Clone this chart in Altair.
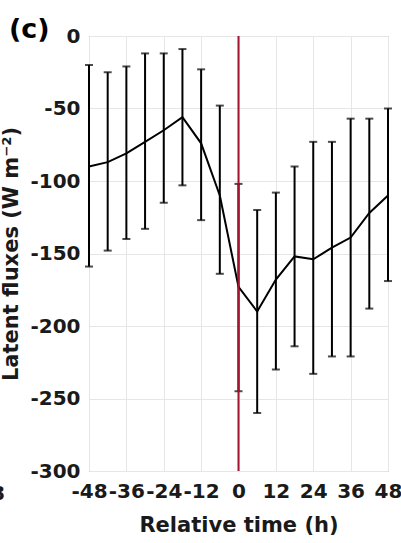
import altair as alt
import pandas as pd

hours = [-48, -42, -36, -30, -24, -18, -12, -6, 0, 6, 12, 18, 24, 30, 36, 42, 48]
mean_flux = [-90, -87, -81, -73, -65, -56, -74, -110, -173, -190, -168, -152, -154, -146, -139, -122, -110]
upper_flux = [-20, -25, -21, -12, -12, -9, -23, -48, -102, -120, -108, -90, -73, -73, -57, -57, -50]
lower_flux = [-159, -148, -140, -133, -115, -103, -127, -164, -245, -260, -230, -214, -233, -221, -221, -188, -169]
x_ticks = [-48, -36, -24, -12, 0, 12, 24, 36, 48]
y_ticks = [0, -50, -100, -150, -200, -250, -300]

df = pd.DataFrame({"t": hours, "m": mean_flux, "hi": upper_flux, "lo": lower_flux})
FONT = "DejaVu Sans"

xs = alt.Scale(domain=[-48, 48], nice=False, zero=False)
ys = alt.Scale(domain=[-300, 0], nice=False, zero=False)

xax = alt.Axis(values=x_ticks, title="Relative time (h)", labelPadding=10, titlePadding=13,
               labelOverlap=False, labelExpr="'' + datum.value")
yax = alt.Axis(values=y_ticks, title="Latent fluxes (W m⁻²)", labelPadding=9, titlePadding=8,
               labelOverlap=False, labelExpr="'' + datum.value")

base = alt.Chart(df)

bars = base.mark_rule(color="black", strokeWidth=2).encode(
    x=alt.X("t:Q", scale=xs, axis=xax),
    y=alt.Y("lo:Q", scale=ys, axis=yax),
    y2="hi:Q",
)
cap_hi = base.mark_tick(color="black", thickness=2, size=8, orient="horizontal").encode(
    x=alt.X("t:Q", scale=xs, axis=xax), y=alt.Y("hi:Q", scale=ys, axis=yax))
cap_lo = base.mark_tick(color="black", thickness=2, size=8, orient="horizontal").encode(
    x=alt.X("t:Q", scale=xs, axis=xax), y=alt.Y("lo:Q", scale=ys, axis=yax))
line = base.mark_line(color="black", strokeWidth=2).encode(
    x=alt.X("t:Q", scale=xs, axis=xax), y=alt.Y("m:Q", scale=ys, axis=yax))

red = alt.Chart(pd.DataFrame({"t": [0]})).mark_rule(color="#A2142F", strokeWidth=2).encode(
    x=alt.X("t:Q", scale=xs, axis=xax))

label_c = alt.Chart(pd.DataFrame({"s": ["(c)"]})).mark_text(
    font=FONT, fontWeight="bold", fontSize=27, align="left", baseline="alphabetic", color="black"
).encode(text="s:N", x=alt.value(-80), y=alt.value(2))

frag = alt.Chart(pd.DataFrame({"s": ["8"]})).mark_text(
    font=FONT, fontWeight="bold", fontSize=20, align="right", baseline="alphabetic", color="#1a1a1a"
).encode(text="s:N", x=alt.value(-84), y=alt.value(29 + 435))

chart = alt.layer(bars, cap_hi, cap_lo, line, red, label_c, frag).properties(
    width=299, height=435,
    autosize=alt.AutoSizeParams(type="none"),
    padding={"left": 89, "top": 36, "right": 13, "bottom": 72},
    background="white",
).configure_view(stroke="#8c8c8c", strokeWidth=1).configure_axis(
    labelFont=FONT, labelFontWeight="bold", labelFontSize=20, labelColor="#1a1a1a",
    titleFont=FONT, titleFontWeight="bold", titleFontSize=21, titleColor="#1a1a1a",
    grid=True, gridColor="#e6e6e6", domain=False, ticks=False, labelFlush=False,
    labelOverlap=False, labelBound=False,
)

chart.save("out.html", embed_options={"renderer": "svg", "actions": False})
